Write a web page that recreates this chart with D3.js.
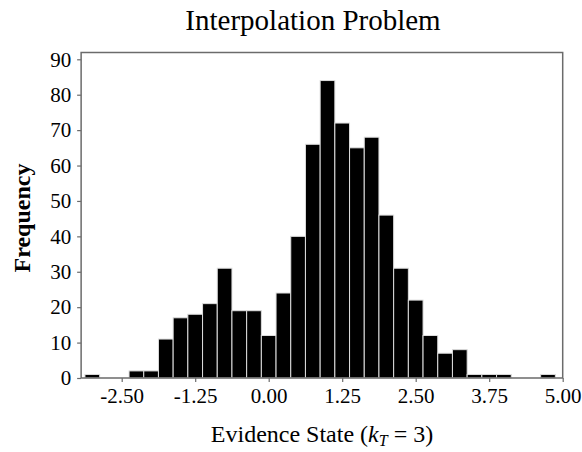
<!DOCTYPE html>
<html>
<head>
<meta charset="utf-8">
<script src="https://cdn.jsdelivr.net/npm/d3@7"></script>
<style>
  body { margin: 0; background: #fff; }
  text { font-family: "Liberation Serif", "Times New Roman", serif; fill: #000; }
</style>
</head>
<body>
<svg id="chart" width="582" height="452"></svg>
<script>
// histogram bins (centre of each 0.25 wide bin) and their counts
var binCenters = [-3.00, -2.75, -2.50, -2.25, -2.00, -1.75, -1.50, -1.25, -1.00, -0.75,
    -0.50, -0.25, 0.00, 0.25, 0.50, 0.75, 1.00, 1.25, 1.50, 1.75,
    2.00, 2.25, 2.50, 2.75, 3.00, 3.25, 3.50, 3.75, 4.00, 4.25, 4.50, 4.75];
var counts = [1, 0, 0, 2, 2, 11, 17, 18, 21, 31,
    19, 19, 12, 24, 40, 66, 84, 72, 65, 68,
    46, 31, 22, 12, 7, 8, 1, 1, 1, 0, 0, 1];
var binWidth = 0.25;

var xTicks = [-2.5, -1.25, 0, 1.25, 2.5, 3.75, 5];
var yTicks = [0, 10, 20, 30, 40, 50, 60, 70, 80, 90];

var svg = d3.select("#chart");

// scales
var xScale = d3.scaleLinear().domain([-2.5, 5]).range([121.7, 562.7]);
var yScale = d3.scaleLinear().domain([0, 90]).range([378, 59.3]);

var plotLeft = xScale(-3.19);
var plotRight = xScale(5);
var plotTop = yScale(91.9);
var plotBottom = yScale(0);

// bars
svg.append("g")
    .selectAll("rect")
    .data(binCenters.map(function (c, i) { return { c: c, n: counts[i] }; })
        .filter(function (d) { return d.n > 0; }))
    .enter()
    .append("rect")
    .attr("x", function (d) { return xScale(d.c - binWidth / 2); })
    .attr("y", function (d) { return yScale(d.n); })
    .attr("width", function (d) { return xScale(d.c + binWidth / 2) - xScale(d.c - binWidth / 2); })
    .attr("height", function (d) { return yScale(0) - yScale(d.n); })
    .attr("fill", "#000")
    .attr("stroke", "#ddd")
    .attr("stroke-width", 1);

// frame (left, top, right) and baseline
svg.append("path")
    .attr("d", "M" + plotLeft + "," + plotBottom + "V" + plotTop + "H" + plotRight + "V" + plotBottom + "H" + plotLeft)
    .attr("fill", "none")
    .attr("stroke", "#6b6b6b")
    .attr("stroke-width", 1.5);

// y axis
var yAxis = d3.axisLeft(yScale)
    .tickValues(yTicks)
    .tickSize(4)
    .tickPadding(6)
    .tickFormat(d3.format("d"));

var gy = svg.append("g")
    .attr("transform", "translate(" + plotLeft + ",0)")
    .call(yAxis);
gy.select(".domain").remove();
gy.selectAll("line").attr("stroke", "#6b6b6b").attr("stroke-width", 1.2);
gy.selectAll("text")
    .style("font-family", "'Liberation Serif', 'Times New Roman', serif")
    .style("font-size", "21px")
    .attr("fill", "#000");

// x axis
var xAxis = d3.axisBottom(xScale)
    .tickValues(xTicks)
    .tickSize(4)
    .tickPadding(6)
    .tickFormat(d3.format(".2f"));

var gx = svg.append("g")
    .attr("transform", "translate(0," + plotBottom + ")")
    .call(xAxis);
gx.select(".domain").remove();
gx.selectAll("line").attr("stroke", "#6b6b6b").attr("stroke-width", 1.2);
gx.selectAll("text")
    .style("font-family", "'Liberation Serif', 'Times New Roman', serif")
    .style("font-size", "21px")
    .attr("fill", "#000")
    .text(function (d) { return d3.format(".2f")(d).replace("−", "-"); });

// title
svg.append("text")
    .attr("x", 313)
    .attr("y", 30)
    .attr("text-anchor", "middle")
    .style("font-size", "29px")
    .text("Interpolation Problem");

// x label
var xl = svg.append("text")
    .attr("x", 322)
    .attr("y", 442)
    .attr("text-anchor", "middle")
    .style("font-size", "24px");
xl.append("tspan").text("Evidence State (");
xl.append("tspan").style("font-style", "italic").text("k");
xl.append("tspan").style("font-style", "italic").style("font-size", "16px").attr("dy", 4).text("T");
xl.append("tspan").attr("dy", -4).text(" = 3)");

// y label
svg.append("text")
    .attr("transform", "translate(30,218) rotate(-90)")
    .attr("text-anchor", "middle")
    .style("font-size", "24px")
    .style("font-weight", "bold")
    .text("Frequency");
</script>
</body>
</html>
